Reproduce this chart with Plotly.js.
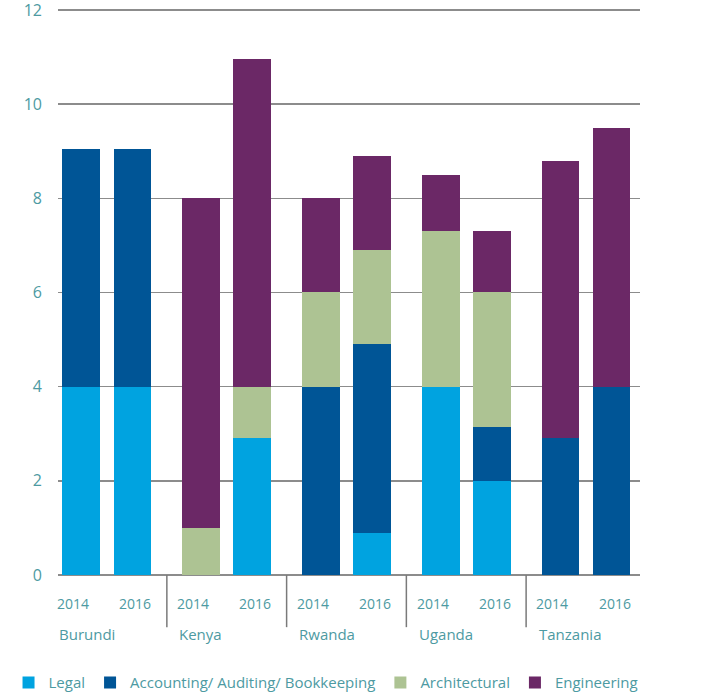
<!DOCTYPE html>
<html>
<head>
<meta charset="utf-8">
<script src="https://cdn.plot.ly/plotly-3.0.1.min.js"></script>
<style>
html,body{margin:0;padding:0;background:#fff;}
#chart{width:706px;height:695px;}
</style>
</head>
<body>
<div id="chart"></div>
<script>
// ---- data ----
var countries = ['Burundi', 'Kenya', 'Rwanda', 'Uganda', 'Tanzania'];
var years = ['2014', '2016'];
// values ordered: country by country, 2014 then 2016
var legal         = [4.0, 4.0,   0,   2.9,  0,   0.9,  4.0, 2.0,  0,   0];
var accounting    = [5.05, 5.05, 0,   0,    4.0, 4.0,  0,   1.15, 2.9, 4.0];
var architectural = [0,   0,     1.0, 1.1,  2.0, 2.0,  3.3, 2.85, 0,   0];
var engineering   = [0,   0,     7.0, 6.95, 2.0, 2.0,  1.2, 1.3,  5.9, 5.5];
var seriesNames = ['Legal', 'Accounting/ Auditing/ Bookkeeping', 'Architectural', 'Engineering'];
var yTicks = [0, 2, 4, 6, 8, 10, 12];

// ---- styling ----
var colors = ['#00a3e0', '#005596', '#adc393', '#6b2866'];
var textColor = '#4d9aa2';
var font = 'Open Sans, Segoe UI, sans-serif';
var pairOffset = 0.213;
var barWidth = 0.317;

var xs = [], yearOf = [];
countries.forEach(function (c, g) {
  years.forEach(function (yr, k) {
    xs.push(g + (k === 0 ? -pairOffset : pairOffset));
    yearOf.push(k);
  });
});

var seriesVals = [legal, accounting, architectural, engineering];
var traces = seriesVals.map(function (vals, i) {
  return {
    type: 'bar',
    name: seriesNames[i],
    x: xs,
    y: vals,
    width: barWidth,
    marker: {color: colors[i], line: {width: 0}},
    hoverinfo: 'y+name'
  };
});

var annotations = [];
xs.forEach(function (x, i) {
  annotations.push({
    x: x, xref: 'x', y: -0.0494, yref: 'paper',
    text: years[yearOf[i]], showarrow: false,
    xanchor: 'center', yanchor: 'middle',
    xshift: yearOf[i] === 0 ? -8 : 3,
    font: {family: font, size: 14, color: textColor}
  });
});
countries.forEach(function (c, g) {
  annotations.push({
    x: g - pairOffset - barWidth / 2, xref: 'x', y: -0.104, yref: 'paper',
    text: c, showarrow: false, xanchor: 'left', yanchor: 'middle', xshift: -5,
    font: {family: font, size: 15, color: textColor}
  });
});

var shapes = [];
for (var g = 0; g < countries.length - 1; g++) {
  shapes.push({
    type: 'line', xref: 'x', yref: 'paper',
    x0: g + 0.5, x1: g + 0.5, y0: 0, y1: -0.092,
    line: {color: '#7a7a7a', width: 1.5}
  });
}

var layout = {
  width: 706, height: 695,
  margin: {l: 58, r: 66, t: 8, b: 120, autoexpand: false},
  paper_bgcolor: '#ffffff', plot_bgcolor: '#ffffff',
  barmode: 'stack',
  font: {family: font, color: textColor},
  showlegend: true,
  legend: {
    orientation: 'h',
    x: -0.085, xanchor: 'left', y: -0.19, yanchor: 'middle',
    font: {family: font, size: 15, color: textColor},
    traceorder: 'normal', bgcolor: 'rgba(0,0,0,0)'
  },
  xaxis: {
    range: [-0.409, 4.451], showticklabels: false, showgrid: false,
    zeroline: false, showline: false, fixedrange: true
  },
  yaxis: {
    range: [0, 12.042], tickvals: yTicks, ticktext: yTicks.map(String),
    showgrid: true, gridcolor: '#8c8c8c', gridwidth: 1.5,
    zeroline: true, zerolinecolor: '#8c8c8c', zerolinewidth: 1.5,
    showline: false, ticks: '', ticklabelstandoff: 15,
    ticklabeloverflow: 'allow',
    tickfont: {family: font, size: 16, color: textColor}, fixedrange: true
  },
  annotations: annotations,
  shapes: shapes,
  bargap: 0
};

Plotly.newPlot('chart', traces, layout, {displayModeBar: false, staticPlot: true});
</script>
</body>
</html>
